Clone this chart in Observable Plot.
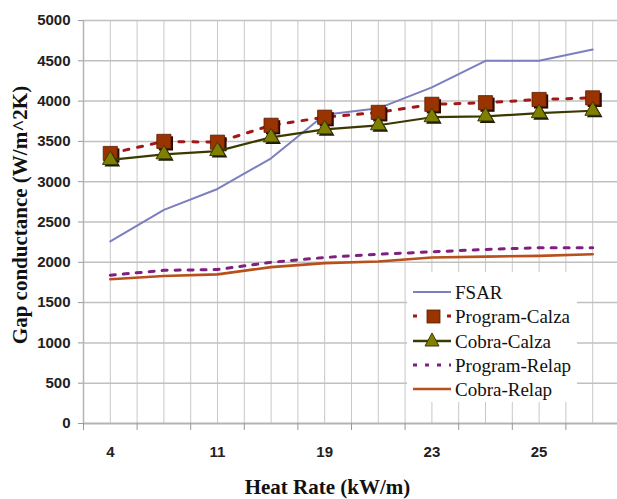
<!DOCTYPE html>
<html>
<head>
<meta charset="utf-8">
<script src="https://cdn.jsdelivr.net/npm/d3@7"></script>
<script src="https://cdn.jsdelivr.net/npm/@observablehq/plot@0.6"></script>
<style>
  html, body { margin: 0; padding: 0; background: #fff; overflow: hidden; }
  #wrap { position: relative; width: 617px; height: 499px; }
  #legend { position: absolute; left: 407px; top: 272px; width: 170px; height: 130px; background: #fff; }
</style>
</head>
<body>
<div id="wrap"></div>
<script>
// ---- data ----
const xLabels = ["4", "", "11", "", "19", "", "23", "", "25", ""];
const fsar         = [2260, 2650, 2910, 3290, 3830, 3910, 4170, 4500, 4500, 4640];
const programCalza = [3350, 3500, 3490, 3700, 3800, 3860, 3960, 3980, 4020, 4040];
const cobraCalza   = [3270, 3340, 3380, 3550, 3650, 3700, 3800, 3810, 3850, 3880];
const programRelap = [1840, 1900, 1910, 2000, 2060, 2100, 2130, 2160, 2180, 2180];
const cobraRelap   = [1790, 1830, 1850, 1940, 1990, 2010, 2060, 2070, 2080, 2100];
const seriesNames = ["FSAR", "Program-Calza", "Cobra-Calza", "Program-Relap", "Cobra-Relap"];
const yTicks = [0, 500, 1000, 1500, 2000, 2500, 3000, 3500, 4000, 4500, 5000];

const rows = (vals) => vals.map((v, i) => ({i, v}));
const idx = xLabels.map((_, i) => i);
const halfTicks = d3.range(-0.5, xLabels.length, 1);
const allGrid = d3.range(-0.5, xLabels.length, 0.5);

const C = {
  fsar: "#7b7fbd",
  pcLine: "#a01818", pcFill: "#993300",
  ccLine: "#3a3a00", ccFill: "#808000",
  pr: "#7f1f7f",
  cr: "#b8501c"
};

const chart = Plot.plot({
  width: 617,
  height: 499,
  marginLeft: 83,
  marginRight: -2,
  marginTop: 20,
  marginBottom: 76,
  style: {fontFamily: "'Liberation Sans', Arial, sans-serif", background: "#fff"},
  x: {type: "linear", domain: [-0.5, xLabels.length - 0.5]},
  y: {domain: [0, 5000]},
  marks: [
    Plot.gridX(allGrid, {stroke: "#c8c8c8", strokeOpacity: 1, strokeWidth: 1}),
    Plot.gridY(yTicks.slice(1), {stroke: "#c0c0c0", strokeOpacity: 1, strokeWidth: 1.5}),
    Plot.ruleY([0], {stroke: "#b4b4b4", strokeWidth: 2}),
    Plot.ruleX([-0.5], {stroke: "#b4b4b4", strokeWidth: 1.5}),
    Plot.axisY({ticks: yTicks, tickSize: 5, tickPadding: 8, tickFormat: d => String(d), stroke: "#999", fontSize: 15, fontWeight: "bold", fill: "#222", label: null}),
    Plot.axisX({ticks: halfTicks, tickSize: 7, tickFormat: () => "", stroke: "#999", label: null}),
    Plot.axisX({ticks: idx.filter(i => xLabels[i] !== ""), tickSize: 0, tickPadding: 23, tickFormat: i => xLabels[i], fontSize: 15, fontWeight: "bold", fill: "#222", label: null}),
    // series
    Plot.line(rows(cobraRelap), {x: "i", y: "v", stroke: C.cr, strokeWidth: 2.6}),
    Plot.line(rows(programRelap), {x: "i", y: "v", stroke: C.pr, strokeWidth: 3, strokeDasharray: "5,8"}),
    Plot.line(rows(fsar), {x: "i", y: "v", stroke: C.fsar, strokeWidth: 2}),
    Plot.line(rows(programCalza), {x: "i", y: "v", stroke: C.pcLine, strokeWidth: 3, strokeDasharray: "5,9"}),
    Plot.dot(rows(programCalza), {x: "i", y: "v", symbol: "square", r: 8, fill: "#2a0a00", dx: 2, dy: 2}),
    Plot.dot(rows(programCalza), {x: "i", y: "v", symbol: "square", r: 8, fill: C.pcFill, stroke: "#5a1a00", strokeWidth: 0.8}),
    Plot.line(rows(cobraCalza), {x: "i", y: "v", stroke: C.ccLine, strokeWidth: 2.2}),
    Plot.dot(rows(cobraCalza), {x: "i", y: "v", symbol: "triangle", r: 5.8, fill: "#1a1a00", dx: 2, dy: 2}),
    Plot.dot(rows(cobraCalza), {x: "i", y: "v", symbol: "triangle", r: 5.8, fill: C.ccFill, stroke: "#3a3a00", strokeWidth: 1}),
    // axis titles
    Plot.text(["Gap conductance (W/m^2K)"], {frameAnchor: "left", textAnchor: "middle", dx: -63, dy: -7, rotate: -90, fontSize: 21, fontWeight: "bold", fontFamily: "'Liberation Serif', 'Times New Roman', serif", fill: "#111", text: d => d}),
    Plot.text(["Heat Rate (kW/m)"], {frameAnchor: "bottom", textAnchor: "middle", dx: -24, dy: 70, fontSize: 21, fontWeight: "bold", fontFamily: "'Liberation Serif', 'Times New Roman', serif", fill: "#111", text: d => d})
  ]
});
document.getElementById("wrap").appendChild(chart);

// legend (HTML/SVG overlay inside the plot area)
const legend = document.createElement("div");
legend.id = "legend";
const rowY = [20, 44, 69, 93, 117];
const ns = "http://www.w3.org/2000/svg";
const svg = document.createElementNS(ns, "svg");
svg.setAttribute("width", 170);
svg.setAttribute("height", 130);
function el(tag, attrs) {
  const e = document.createElementNS(ns, tag);
  for (const k in attrs) e.setAttribute(k, attrs[k]);
  svg.appendChild(e);
  return e;
}
// FSAR
el("line", {x1: 6, x2: 44, y1: rowY[0], y2: rowY[0], stroke: C.fsar, "stroke-width": 2});
// Program-Calza
el("line", {x1: 6, x2: 44, y1: rowY[1], y2: rowY[1], stroke: C.pcLine, "stroke-width": 3, "stroke-dasharray": "4,30"});
el("rect", {x: 20, y: rowY[1] - 6, width: 13, height: 13, fill: C.pcFill, stroke: "#5a1a00", "stroke-width": 0.8});
// Cobra-Calza
el("line", {x1: 6, x2: 44, y1: rowY[2], y2: rowY[2], stroke: C.ccLine, "stroke-width": 2.4});
el("path", {d: `M25,${rowY[2] - 8} L32,${rowY[2] + 5} L18,${rowY[2] + 5} Z`, fill: C.ccFill, stroke: "#3a3a00", "stroke-width": 1});
// Program-Relap
el("line", {x1: 6, x2: 44, y1: rowY[3], y2: rowY[3], stroke: C.pr, "stroke-width": 3, "stroke-dasharray": "4,8"});
// Cobra-Relap
el("line", {x1: 6, x2: 44, y1: rowY[4], y2: rowY[4], stroke: C.cr, "stroke-width": 2.6});
seriesNames.forEach((name, k) => {
  const t = el("text", {x: 48, y: rowY[k], "dominant-baseline": "central", "font-family": "'Liberation Serif', 'Times New Roman', serif", "font-size": 19, fill: "#111"});
  t.textContent = name;
});
legend.appendChild(svg);
document.getElementById("wrap").appendChild(legend);
</script>
</body>
</html>
